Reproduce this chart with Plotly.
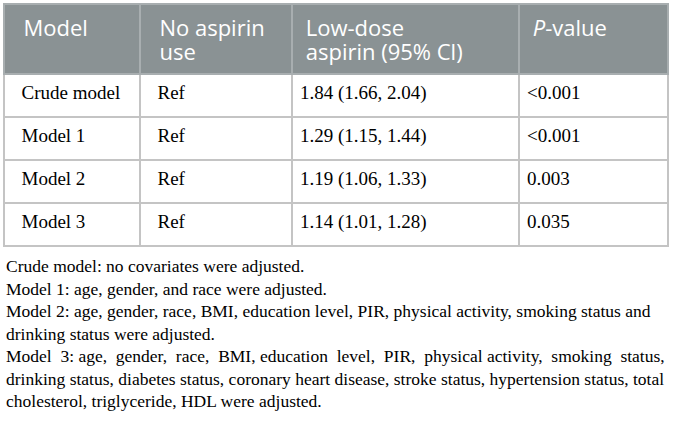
import plotly.graph_objects as go

W, H = 673, 427

# table content
headers = ["Model", "No aspirin<br>use", "Low-dose<br>aspirin (95% Cl)", "<i>P</i>-value"]
models = ["Crude model", "Model 1", "Model 2", "Model 3"]
no_aspirin = ["Ref", "Ref", "Ref", "Ref"]
low_dose = ["1.84 (1.66, 2.04)", "1.29 (1.15, 1.44)", "1.19 (1.06, 1.33)", "1.14 (1.01, 1.28)"]
p_values = ["<0.001", "<0.001", "0.003", "0.035"]

footnotes = [
    "Crude model: no covariates were adjusted.",
    "Model 1: age, gender, and race were adjusted.",
    "Model 2: age, gender, race, BMI, education level, PIR, physical activity, smoking status and",
    "drinking status were adjusted.",
    "Model 3: age, gender, race, BMI, education level, PIR, physical activity, smoking status,",
    "drinking status, diabetes status, coronary heart disease, stroke status, hypertension status, total",
    "cholesterol, triglyceride, HDL were adjusted.",
]

col_widths = [136, 152, 227, 149]
head_indent = [2, 2, 1, 1]   # extra non-breaking spaces before the text
body_indent = [2, 2, 0, 0]
note_stretch = [0, 0, 0, 0, 9, 0, 0]  # widened gaps to imitate justified lines

NB = "\u00a0"


def head(v, i):
    # each line gets its own span so the glyphs are bigger than the line step
    lines = v.split("<br>")
    out = [f'<span style="font-size:22px">{NB * head_indent[i]}{ln}</span>' for ln in lines]
    return "<br>".join(out) + ("<br>" if len(lines) == 1 else "")


def cell(v, i):
    # smaller span inside a larger cell font pushes the text a bit lower
    v = v.replace("<0", "&lt;0")
    return f'<span style="font-size:19px">{NB * body_indent[i]}{v}</span><br>'


def justify(line, n):
    # spread n extra spaces evenly over the gaps between words
    words = line.split(" ")
    gaps = len(words) - 1
    if n and gaps:
        for k in range(n):
            words[round((k + 0.5) * gaps / n - 0.5)] += NB
    return " ".join(words)


fig = go.Figure()

fig.add_trace(go.Table(
    columnwidth=col_widths,
    domain=dict(x=[4 / W, 668 / W], y=[0, 1 - 4 / H]),
    header=dict(
        values=[head(h, i) for i, h in enumerate(headers)],
        fill_color="#8a9294",
        line=dict(color="#a8aeb0", width=2),
        font=dict(family="Open Sans", size=18.5, color="white"),
        align="left",
        height=69,
    ),
    cells=dict(
        values=[[cell(v, i) for v in col]
                for i, col in enumerate([models, no_aspirin, low_dose, p_values])],
        fill_color="white",
        line=dict(color="#c4c4c4", width=2),
        font=dict(family="Liberation Serif", size=32, color="black"),
        align="left",
        height=43,
    ),
))

# footnotes under the table
for i, line in enumerate(footnotes):
    fig.add_annotation(
        text=justify(line, note_stretch[i]), xref="paper", yref="paper",
        x=4 / W, y=1 - (266 + 22.5 * i) / H,
        xanchor="left", yanchor="middle", showarrow=False,
        font=dict(family="Liberation Serif", size=17.5, color="black"),
    )

fig.update_layout(
    width=W, height=H,
    margin=dict(l=0, r=0, t=0, b=0),
    paper_bgcolor="white",
)

fig.write_html("out.html", config={"displayModeBar": False},
               post_script="document.body.style.margin='0px';")
